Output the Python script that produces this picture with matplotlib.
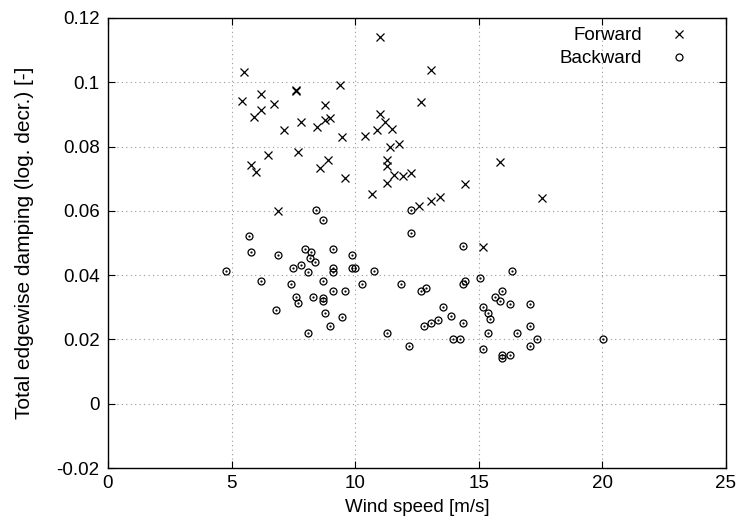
import matplotlib
matplotlib.use("Agg")
import matplotlib.pyplot as plt

plt.rcParams['font.family'] = ['Liberation Sans', 'DejaVu Sans']

# forward whirling mode: wind speed [m/s], damping [-]
fwd_ws = [10.99, 5.49, 13.07, 9.40, 7.59, 7.62, 6.19, 5.41, 12.67, 6.70, 8.79, 6.19,
          10.99, 5.90, 8.99, 8.79, 7.79, 11.19, 8.47, 11.48, 7.11, 10.88, 10.38, 9.48,
          11.77, 11.39, 7.67, 6.49, 8.89, 11.28, 15.86, 5.80, 11.28, 8.59, 6.00, 12.26,
          11.58, 11.95, 9.57, 11.28, 14.46, 10.69, 13.45, 17.54, 13.07, 12.57, 6.89, 15.19]
fwd_damp = [0.1140, 0.1033, 0.1037, 0.0992, 0.0976, 0.0973, 0.0964, 0.0943, 0.0939, 0.0932, 0.0929, 0.0914,
            0.0901, 0.0892, 0.0888, 0.0883, 0.0877, 0.0875, 0.0862, 0.0856, 0.0852, 0.0852, 0.0834, 0.0830,
            0.0807, 0.0798, 0.0782, 0.0773, 0.0758, 0.0758, 0.0752, 0.0743, 0.0739, 0.0732, 0.0721, 0.0717,
            0.0712, 0.0708, 0.0702, 0.0688, 0.0683, 0.0652, 0.0642, 0.0641, 0.0632, 0.0615, 0.0599, 0.0487]

# backward whirling mode
bwd_ws = [8.40, 8.70, 5.69, 12.26, 12.26, 14.38, 7.98, 9.10, 5.80, 6.89, 8.20, 8.19,
          8.39, 9.88, 7.79, 7.49, 8.09, 9.10, 9.10, 9.88, 9.98, 4.79, 10.78, 16.36,
          6.19, 8.70, 14.46, 15.05, 7.39, 10.28, 11.87, 14.38, 9.10, 9.57, 12.67, 12.87,
          15.96, 7.59, 8.29, 8.70, 8.70, 7.69, 15.65, 15.87, 16.26, 17.06, 13.57, 15.17,
          6.80, 8.79, 15.36, 9.48, 13.87, 13.37, 15.47, 13.07, 14.38, 8.99, 12.77, 17.06,
          8.09, 11.28, 15.36, 16.56, 13.96, 14.26, 17.37, 20.04, 12.17, 17.06, 15.17, 15.96,
          15.96, 16.26]
bwd_damp = [0.0602, 0.0572, 0.0522, 0.0602, 0.0532, 0.0491, 0.0482, 0.0482, 0.0471, 0.0463, 0.0471, 0.0452,
            0.0441, 0.0463, 0.0432, 0.0421, 0.0411, 0.0421, 0.0411, 0.0421, 0.0421, 0.0412, 0.0412, 0.0412,
            0.0382, 0.0382, 0.0381, 0.0391, 0.0371, 0.0372, 0.0372, 0.0371, 0.0352, 0.0352, 0.0352, 0.0361,
            0.0352, 0.0331, 0.0331, 0.0328, 0.0319, 0.0312, 0.0331, 0.0320, 0.0311, 0.0311, 0.0302, 0.0302,
            0.0291, 0.0281, 0.0281, 0.0271, 0.0272, 0.0261, 0.0263, 0.0252, 0.0252, 0.0242, 0.0242, 0.0241,
            0.0220, 0.0221, 0.0221, 0.0221, 0.0201, 0.0201, 0.0201, 0.0201, 0.0180, 0.0180, 0.0170, 0.0151,
            0.0141, 0.0151]

xticks = [0, 5, 10, 15, 20, 25]
yticks = [-0.02, 0, 0.02, 0.04, 0.06, 0.08, 0.1, 0.12]
ytick_labels = ['-0.02', '0', '0.02', '0.04', '0.06', '0.08', '0.1', '0.12']

fs = 13.5

fig = plt.figure(figsize=(7.37, 5.28), dpi=100)
ax = fig.add_axes([0.1465, 0.1136, 0.8385, 0.8524])

ax.plot(fwd_ws, fwd_damp, ls='none', marker='x', ms=6, mew=0.9, color='black', label='Forward')
ax.plot(bwd_ws, bwd_damp, ls='none', marker='o', ms=5, mew=0.9, mfc='none', color='black', label='Backward')
ax.plot(bwd_ws, bwd_damp, ls='none', marker='.', ms=1.2, color='black')

ax.set_xlim(0, 25)
ax.set_ylim(-0.02, 0.12)
ax.set_xticks(xticks)
ax.set_yticks(yticks)
ax.set_yticklabels(ytick_labels)
ax.tick_params(direction='in', length=5, width=0.8, top=True, right=True, labelsize=fs, pad=6)
ax.tick_params(axis='x', pad=5)
ax.grid(True, ls=(0, (1, 3)), color='#999999', lw=0.8)
for s in ax.spines.values():
    s.set_linewidth(1.0)

ax.set_xlabel('Wind speed [m/s]', fontsize=fs, labelpad=5)
ax.set_ylabel('Total edgewise damping (log. decr.) [-]', fontsize=15, labelpad=16)

leg = ax.legend(loc='upper right', bbox_to_anchor=(0.955, 1.0), frameon=False, markerfirst=False,
                fontsize=fs, handlelength=1.0, handletextpad=1.5, labelspacing=0.3, borderaxespad=0.1)

fig.savefig('out.png', dpi=100)
